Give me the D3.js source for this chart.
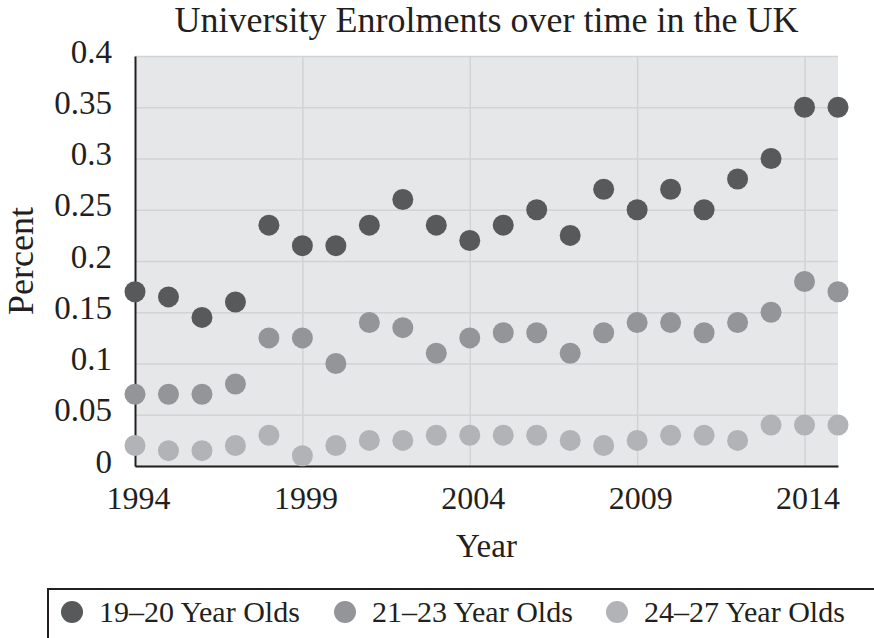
<!DOCTYPE html>
<html>
<head>
<meta charset="utf-8">
<script src="https://cdn.jsdelivr.net/npm/d3@7"></script>
<style>
  body { margin: 0; background: #fff; }
  svg text { font-family: "Liberation Serif", "DejaVu Serif", serif; fill: #231f20; }
</style>
</head>
<body>
<script>
const w = 874;
const h = 638;

const years = d3.range(1994, 2016);
const xTicks = [1994, 1999, 2004, 2009, 2014];
const yTicks = [0, 0.05, 0.1, 0.15, 0.2, 0.25, 0.3, 0.35, 0.4];
const yTickLabels = ['0', '0.05', '0.1', '0.15', '0.2', '0.25', '0.3', '0.35', '0.4'];

const seriesNames = ['19–20 Year Olds', '21–23 Year Olds', '24–27 Year Olds'];
const seriesColors = ['#58595b', '#939598', '#b1b3b6'];

const age1920 = [0.17, 0.165, 0.145, 0.16, 0.235, 0.215, 0.215, 0.235, 0.26, 0.235, 0.22,
                 0.235, 0.25, 0.225, 0.27, 0.25, 0.27, 0.25, 0.28, 0.30, 0.35, 0.35];
const age2123 = [0.07, 0.07, 0.07, 0.08, 0.125, 0.125, 0.10, 0.14, 0.135, 0.11, 0.125,
                 0.13, 0.13, 0.11, 0.13, 0.14, 0.14, 0.13, 0.14, 0.15, 0.18, 0.17];
const age2427 = [0.02, 0.015, 0.015, 0.02, 0.03, 0.01, 0.02, 0.025, 0.025, 0.03, 0.03,
                 0.03, 0.03, 0.025, 0.02, 0.025, 0.03, 0.03, 0.025, 0.04, 0.04, 0.04];

const series = [age1920, age2123, age2427];

const svg = d3.select('body').append('svg').attr('width', w).attr('height', h);

// plot box
const pLeft = 135, pRight = 838, pTop = 56, pBottom = 466;

const xScale = d3.scaleLinear().domain([1994, 2015]).range([pLeft, pRight]);
const yScale = d3.scaleLinear().domain([0, 0.4]).range([pBottom, pTop]);

svg.append('rect')
  .attr('x', pLeft).attr('y', pTop)
  .attr('width', pRight - pLeft).attr('height', pBottom - pTop)
  .attr('fill', '#e6e7e8');

// gridlines
const hGrid = d3.axisLeft(yScale).tickValues(yTicks).tickFormat('').tickSize(-(pRight - pLeft));
svg.append('g')
  .attr('class', 'grid')
  .attr('transform', 'translate(' + pLeft + ',0)')
  .call(hGrid)
  .call(g => g.select('.domain').remove())
  .call(g => g.selectAll('line').attr('stroke', '#d1d3d4').attr('stroke-width', 1.5));

const vGrid = d3.axisBottom(xScale).tickValues(xTicks.slice(1)).tickFormat('').tickSize(-(pBottom - pTop));
svg.append('g')
  .attr('class', 'grid')
  .attr('transform', 'translate(0,' + pBottom + ')')
  .call(vGrid)
  .call(g => g.select('.domain').remove())
  .call(g => g.selectAll('line').attr('stroke', '#d1d3d4').attr('stroke-width', 1.5));

// axes
const xAxis = d3.axisBottom(xScale).tickValues(xTicks).tickFormat(d3.format('d')).tickSize(0).tickPadding(0);
svg.append('g')
  .attr('class', 'xaxis')
  .attr('transform', 'translate(0,' + pBottom + ')')
  .call(xAxis)
  .call(g => g.select('.domain').attr('stroke', '#231f20').attr('stroke-width', 2))
  .call(g => g.selectAll('text')
    .attr('font-size', 32).attr('dy', null).attr('y', 43).attr('dx', 3)
    .attr('font-family', null)
    .attr('fill', '#231f20'));

const yAxis = d3.axisLeft(yScale).tickValues(yTicks).tickFormat((d, i) => yTickLabels[i]).tickSize(0).tickPadding(0);
svg.append('g')
  .attr('class', 'yaxis')
  .attr('transform', 'translate(' + pLeft + ',0)')
  .call(yAxis)
  .call(g => g.select('.domain').attr('stroke', '#231f20').attr('stroke-width', 2))
  .call(g => g.selectAll('text')
    .attr('font-size', 33).attr('x', -23).attr('dy', 6)
    .attr('font-family', null)
    .attr('fill', '#231f20'));

// points
series.forEach((vals, s) => {
  svg.append('g')
    .selectAll('circle')
    .data(vals)
    .enter()
    .append('circle')
    .attr('cx', (d, i) => xScale(years[i]))
    .attr('cy', d => yScale(d))
    .attr('r', 10.5)
    .attr('fill', seriesColors[s]);
});

// titles
svg.append('text')
  .attr('x', (pLeft + pRight) / 2).attr('y', 32)
  .attr('text-anchor', 'middle').attr('font-size', 36)
  .text('University Enrolments over time in the UK');

svg.append('text')
  .attr('x', (pLeft + pRight) / 2).attr('y', 557)
  .attr('text-anchor', 'middle').attr('font-size', 33)
  .text('Year');

svg.append('text')
  .attr('transform', 'translate(33,' + ((pTop + pBottom) / 2) + ') rotate(-90)')
  .attr('text-anchor', 'middle').attr('font-size', 36)
  .text('Percent');

// legend
svg.append('rect')
  .attr('x', 48).attr('y', 589)
  .attr('width', 900).attr('height', 80)
  .attr('fill', 'none').attr('stroke', '#231f20').attr('stroke-width', 2);

const legendX = [72, 345, 617];
seriesNames.forEach((name, i) => {
  svg.append('circle')
    .attr('cx', legendX[i]).attr('cy', 612).attr('r', 11)
    .attr('fill', seriesColors[i]);
  svg.append('text')
    .attr('x', legendX[i] + 27).attr('y', 622)
    .attr('font-size', 30)
    .text(name);
});
</script>
</body>
</html>
